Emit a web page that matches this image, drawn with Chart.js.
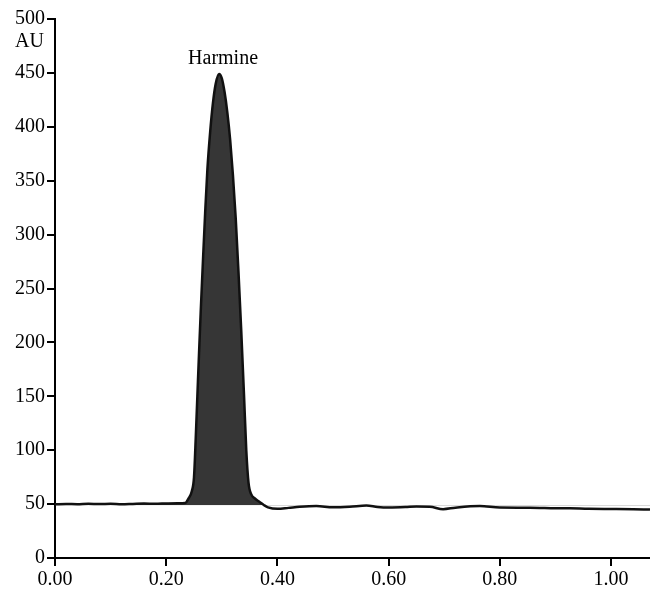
<html lang="en">
<head>
    <meta charset="UTF-8">
    <title>Harmine densitogram</title>
    <style>
        body { margin: 0; background: #fff; }
        canvas { display: block; }
    </style>
</head>
<body>
    <canvas id="myChart" width="650" height="590"></canvas>

    <script src="https://cdn.jsdelivr.net/npm/chart.js@4"></script>
    <script>
        // Rf positions along the track and the scanned absorbance (AU)
        const rf = [0.00, 0.02, 0.04, 0.06, 0.08, 0.10, 0.12, 0.14, 0.16, 0.18, 0.20, 0.22, 0.234,
            0.241, 0.246, 0.250, 0.253, 0.256, 0.259, 0.262, 0.266, 0.270, 0.274, 0.279, 0.284, 0.289, 0.295,
            0.300, 0.305, 0.310, 0.315, 0.320, 0.325, 0.330, 0.335, 0.340, 0.344, 0.348, 0.353, 0.360, 0.368, 0.376,
            0.383, 0.40, 0.42, 0.44, 0.47, 0.50, 0.53, 0.56, 0.58, 0.60, 0.63, 0.65, 0.674, 0.698,
            0.72, 0.764, 0.80, 0.854, 0.90, 0.926, 0.96, 1.00, 1.04, 1.07];
        const au = [49.8, 50.1, 49.9, 50.3, 50.0, 50.4, 49.9, 50.2, 50.5, 50.3, 50.6, 50.8, 51,
            56, 62, 75, 110, 150, 190, 228, 275, 320, 360, 395, 422, 440, 449,
            445, 432, 413, 388, 355, 315, 265, 210, 150, 100, 70, 59, 55, 52, 49,
            47, 45.6, 46.5, 47.5, 48.2, 47, 47.5, 48.6, 47.3, 46.8, 47.2, 47.8, 47.6, 45.3,
            46.7, 48.2, 46.8, 46.7, 46.2, 46.1, 45.6, 45.4, 45.2, 45.0];

        const xTicks = [0.00, 0.20, 0.40, 0.60, 0.80, 1.00];
        const yTicks = [0, 50, 100, 150, 200, 250, 300, 350, 400, 450, 500];

        const peakName = 'Harmine';
        const peakRf = 0.295;
        const peakAu = 449;
        const unitLabel = 'AU';

        const serif = { family: '"Liberation Serif", "DejaVu Serif", serif', size: 20 };

        // text labels: peak name over the apex and the unit under the top tick
        const labelsPlugin = {
            id: 'labels',
            afterDraw(chart) {
                const ctx = chart.ctx;
                const xs = chart.scales.x, ys = chart.scales.y;
                ctx.save();
                ctx.fillStyle = '#000';
                ctx.font = serif.size + 'px ' + serif.family;
                ctx.textBaseline = 'alphabetic';
                ctx.textAlign = 'center';
                ctx.fillText(peakName, xs.getPixelForValue(peakRf) + 4, ys.getPixelForValue(peakAu) - 10);
                ctx.textAlign = 'right';
                ctx.fillText(unitLabel, ys.left + ys.width - 11, ys.getPixelForValue(500) + 28);
                ctx.restore();
            }
        };

        const ctx = document.getElementById('myChart').getContext('2d');
        const chart = new Chart(ctx, {
            type: 'line',
            data: {
                datasets: [{
                    data: rf.map((r, i) => ({ x: r, y: au[i] })),
                    borderColor: '#111',
                    borderWidth: 2.5,
                    pointRadius: 0,
                    cubicInterpolationMode: 'monotone',
                    fill: { target: { value: 49 }, above: '#363636', below: 'rgba(0,0,0,0)' }
                }]
            },
            options: {
                responsive: false,
                animation: false,
                layout: { padding: { top: 19, right: 0, left: 0, bottom: 0 } },
                plugins: { legend: { display: false }, tooltip: { enabled: false } },
                scales: {
                    x: {
                        type: 'linear',
                        min: 0,
                        max: 1.07,
                        afterBuildTicks: s => { s.ticks = xTicks.map(v => ({ value: v })); },
                        afterFit: s => { s.height = 32; },
                        grid: { drawOnChartArea: false, drawTicks: true, tickLength: 8, color: '#000', lineWidth: 2 },
                        border: { display: true, color: '#000', width: 2 },
                        ticks: {
                            autoSkip: false, maxRotation: 0, padding: 2, color: '#000', font: serif,
                            callback: v => v.toFixed(2)
                        }
                    },
                    y: {
                        min: 0,
                        max: 500,
                        afterBuildTicks: s => { s.ticks = yTicks.map(v => ({ value: v })); },
                        afterFit: s => { s.width = 55; },
                        grid: { drawOnChartArea: false, drawTicks: true, tickLength: 8, color: '#000', lineWidth: 2 },
                        border: { display: true, color: '#000', width: 2 },
                        ticks: { autoSkip: false, padding: 2, color: '#000', font: serif }
                    }
                }
            },
            plugins: [labelsPlugin]
        });
    </script>
</body>
</html>
